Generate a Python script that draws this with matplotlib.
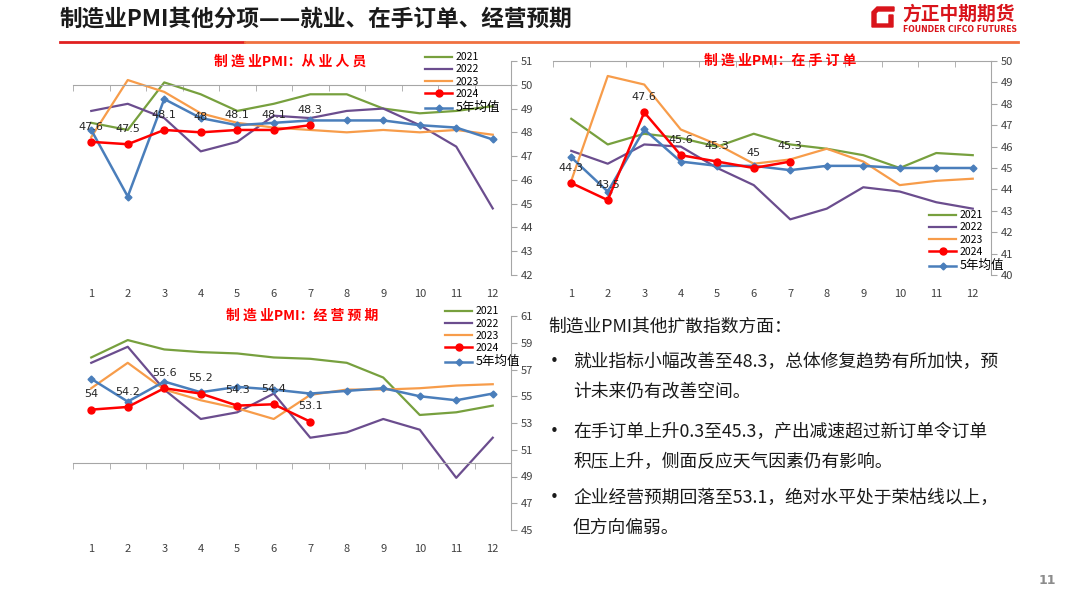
import numpy as np
import matplotlib
matplotlib.use("Agg")
import matplotlib.pyplot as plt
from matplotlib.patches import Polygon
from matplotlib.lines import Line2D

plt.rcParams['font.family'] = ['Noto Sans CJK SC', 'DejaVu Sans']

months = list(range(1, 13))
series_names = ['2021', '2022', '2023', '2024', '5年均值']

# 制造业PMI：从业人员
emp_2021 = [48.4, 48.1, 50.1, 49.6, 48.9, 49.2, 49.6, 49.6, 49.0, 48.8, 48.9, 49.1]
emp_2022 = [48.9, 49.2, 48.6, 47.2, 47.6, 48.7, 48.6, 48.9, 49.0, 48.3, 47.4, 44.8]
emp_2023 = [47.8, 50.2, 49.7, 48.8, 48.4, 48.2, 48.1, 48.0, 48.1, 48.0, 48.1, 47.9]
emp_2024 = [47.6, 47.5, 48.1, 48.0, 48.1, 48.1, 48.3]
emp_avg = [48.1, 45.3, 49.4, 48.6, 48.3, 48.4, 48.5, 48.5, 48.5, 48.3, 48.2, 47.7]

# 制造业PMI：在手订单
ord_2021 = [47.3, 46.1, 46.6, 46.4, 46.0, 46.6, 46.1, 45.9, 45.6, 45.0, 45.7, 45.6]
ord_2022 = [45.8, 45.2, 46.1, 46.0, 45.0, 44.2, 42.6, 43.1, 44.1, 43.9, 43.4, 43.1]
ord_2023 = [44.4, 49.3, 48.9, 46.8, 46.1, 45.2, 45.4, 45.9, 45.3, 44.2, 44.4, 44.5]
ord_2024 = [44.3, 43.5, 47.6, 45.6, 45.3, 45.0, 45.3]
ord_avg = [45.5, 43.9, 46.8, 45.3, 45.1, 45.1, 44.9, 45.1, 45.1, 45.0, 45.0, 45.0]

# 制造业PMI：经营预期
exp_2021 = [57.9, 59.2, 58.5, 58.3, 58.2, 57.9, 57.8, 57.5, 56.4, 53.6, 53.8, 54.3]
exp_2022 = [57.5, 58.7, 55.5, 53.3, 53.8, 55.2, 51.9, 52.3, 53.3, 52.5, 48.9, 51.9]
exp_2023 = [55.6, 57.5, 55.5, 54.7, 54.1, 53.3, 55.1, 55.5, 55.5, 55.6, 55.8, 55.9]
exp_2024 = [54.0, 54.2, 55.6, 55.2, 54.3, 54.4, 53.1]
exp_avg = [56.3, 54.6, 56.1, 55.3, 55.7, 55.5, 55.2, 55.4, 55.6, 55.0, 54.7, 55.2]

W, H = 1080, 608
fig = plt.figure(figsize=(W / 100, H / 100), dpi=100)
fig.patch.set_facecolor('white')


def fx(px):
    return px / W


def fy(py):
    return 1 - py / H


colors = ['#77a03e', '#6b4d8e', '#f79c4a', '#ff0000', '#4a7ebb']
grey = '#a6a6a6'


def panel(rect, data, ylim, yticks, title, title_xy, leg_xy):
    l, t, r, b = rect
    ax = fig.add_axes([fx(l), fy(b), fx(r - l), (b - t) / H])
    s21, s22, s23, s24, savg = data
    ax.plot(months, s21, color=colors[0], lw=1.6, label=series_names[0])
    ax.plot(months, s22, color=colors[1], lw=1.6, label=series_names[1])
    ax.plot(months, s23, color=colors[2], lw=1.6, label=series_names[2])
    ax.plot(months[:len(s24)], s24, color=colors[3], lw=1.8, marker='o', ms=5,
            label=series_names[3], zorder=5)
    ax.plot(months, savg, color=colors[4], lw=1.8, marker='D', ms=3.5,
            label=series_names[4], zorder=4)
    for m, v in zip(months, s24):
        ax.annotate(f'{v:g}', (m, v), xytext=(0, 11), textcoords='offset points',
                    ha='center', va='center', fontsize=8, color='#262626',
                    family=['DejaVu Sans'], zorder=6)
    ax.set_xlim(0.5, 12.5)
    ax.set_ylim(*ylim)
    ax.set_yticks(yticks)
    ax.yaxis.tick_right()
    ax.tick_params(axis='y', length=4, color=grey, labelsize=8, labelcolor='#404040', pad=3)
    for k in ['left', 'top']:
        ax.spines[k].set_visible(False)
    ax.spines['right'].set_color(grey)
    ax.spines['bottom'].set_color(grey)
    ax.spines['bottom'].set_position(('data', 50))
    ax.set_xticks(months)
    ax.set_xticks(np.arange(0.5, 13, 1), minor=True)
    ax.tick_params(axis='x', which='major', length=0, labelbottom=False)
    ax.tick_params(axis='x', which='minor', length=4, color=grey, direction='out')
    sec = ax.secondary_xaxis(0)
    sec.set_xticks(months)
    sec.spines['bottom'].set_visible(False)
    sec.tick_params(length=0, labelsize=8, labelcolor='#404040', pad=10)
    ax.set_facecolor('none')
    fig.text(fx(title_xy[0]), fy(title_xy[1]), title, ha='center', va='center',
             fontsize=10, color='#ff0000', fontweight='bold')
    handles, labels = ax.get_legend_handles_labels()
    leg = fig.legend(handles, labels, loc='upper left',
                     bbox_to_anchor=(fx(leg_xy[0]), fy(leg_xy[1])),
                     frameon=False, fontsize=7.5, handlelength=2.6,
                     handletextpad=0.3, labelspacing=0.22, borderpad=0)
    leg.get_texts()[-1].set_fontsize(9)
    return ax


panel((73, 61, 511, 275), [emp_2021, emp_2022, emp_2023, emp_2024, emp_avg],
      (42, 51), range(42, 52), '制 造 业PMI：从 业 人 员', (290, 62), (420, 47))
panel((553, 61, 991, 275), [ord_2021, ord_2022, ord_2023, ord_2024, ord_avg],
      (40, 50), range(40, 51), '制 造 业PMI：在 手 订 单', (780, 61), (924, 205))
panel((73, 316, 511, 530), [exp_2021, exp_2022, exp_2023, exp_2024, exp_avg],
      (45, 61), range(45, 62, 2), '制 造 业PMI：经 营 预 期', (302, 316), (440, 301))

# header
fig.text(fx(60), fy(19), '制造业PMI其他分项——就业、在手订单、经营预期', ha='left', va='center',
         fontsize=16.3, fontweight='bold', color='#1a1a1a')
fig.add_artist(Line2D([fx(60), fx(244)], [fy(42), fy(42)], color='#e02020', lw=2))
fig.add_artist(Line2D([fx(245), fx(1018)], [fy(42), fy(42)], color='#f07040', lw=2))

# logo
logo = Polygon([[fx(872), fy(27)], [fx(872), fy(12)], [fx(877), fy(7)], [fx(894), fy(7)],
                [fx(894), fy(11)], [fx(878), fy(11)], [fx(876), fy(13)], [fx(876), fy(24)],
                [fx(889), fy(24)], [fx(889), fy(15)], [fx(893), fy(15)], [fx(893), fy(27)]],
               closed=True, transform=fig.transFigure, color='#d9141b')
fig.add_artist(logo)
fig.text(fx(902), fy(14), '方正中期期货', ha='left', va='center', fontsize=13.5,
         fontweight='bold', color='#d9141b')
fig.text(fx(903), fy(29), 'FOUNDER CIFCO FUTURES', ha='left', va='center', fontsize=5.6,
         fontweight='bold', color='#d9141b', family=['DejaVu Sans'])

# text block
fig.text(fx(548), fy(327), '制造业PMI其他扩散指数方面：', ha='left', va='center',
         fontsize=12.8, color='#1a1a1a')
bullets = [
    ['就业指标小幅改善至48.3，总体修复趋势有所加快，预', '计未来仍有改善空间。'],
    ['在手订单上升0.3至45.3，产出减速超过新订单令订单', '积压上升，侧面反应天气因素仍有影响。'],
    ['企业经营预期回落至53.1，绝对水平处于荣枯线以上，', '但方向偏弱。'],
]
ys = [362, 432, 498]
for y0, lines in zip(ys, bullets):
    fig.text(fx(554), fy(y0), '•', ha='center', va='center', fontsize=11, color='#1a1a1a',
             family=['DejaVu Sans'])
    for i, ln in enumerate(lines):
        fig.text(fx(573), fy(y0 + 30 * i), ln, ha='left', va='center', fontsize=12.8,
                 color='#1a1a1a')

fig.text(fx(1047), fy(580), '11', ha='center', va='center', fontsize=9, fontweight='bold',
         color='#8c8c8c', family=['DejaVu Sans'])

fig.savefig('out.png', dpi=100)
